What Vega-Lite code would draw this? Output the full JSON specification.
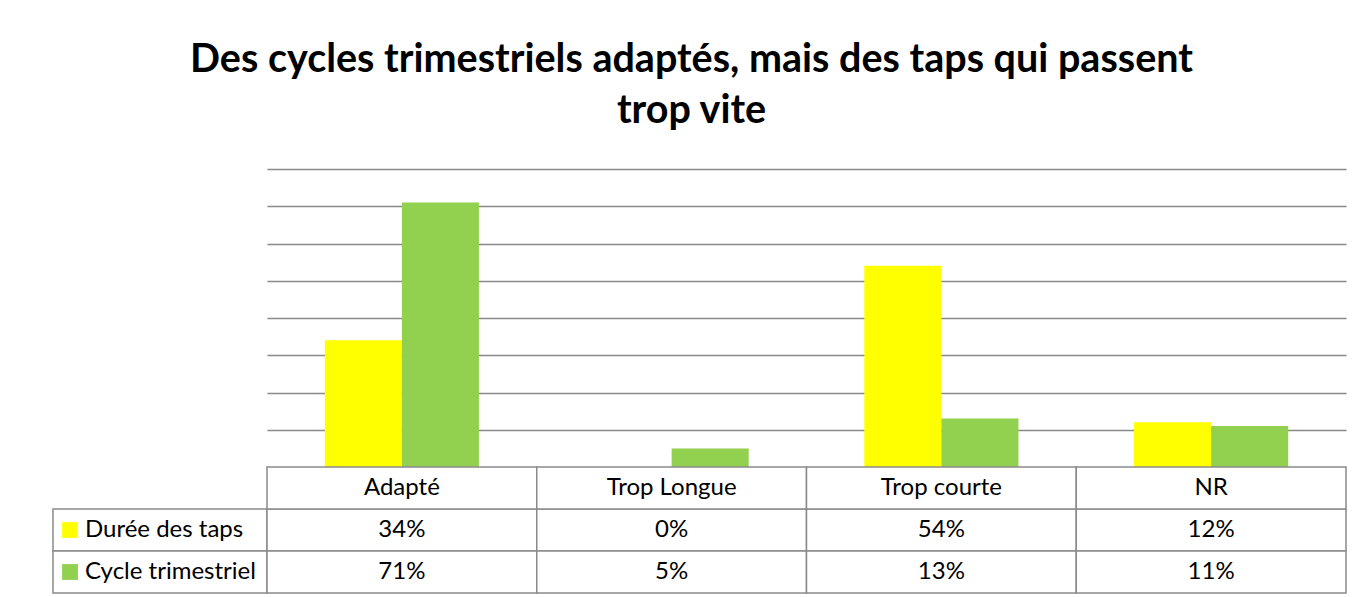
{
  "$schema": "https://vega.github.io/schema/vega-lite/v6.json",
  "padding": {"left": 52, "top": 39, "right": 0, "bottom": 0},
  "background": "white",
  "title": {
    "text": ["Des cycles trimestriels adaptés, mais des taps qui passent", "trop vite"],
    "font": "Lato",
    "fontSize": 39.5,
    "fontWeight": "bold",
    "color": "#000000",
    "anchor": "middle",
    "lineHeight": 51,
    "offset": 38,
    "dx": -8
  },
  "datasets": {
    "bars": [
      {"cat": "Adapté", "series": "Durée des taps", "value": 0.34},
      {"cat": "Trop Longue", "series": "Durée des taps", "value": 0.0},
      {"cat": "Trop courte", "series": "Durée des taps", "value": 0.54},
      {"cat": "NR", "series": "Durée des taps", "value": 0.12},
      {"cat": "Adapté", "series": "Cycle trimestriel", "value": 0.71},
      {"cat": "Trop Longue", "series": "Cycle trimestriel", "value": 0.05},
      {"cat": "Trop courte", "series": "Cycle trimestriel", "value": 0.13},
      {"cat": "NR", "series": "Cycle trimestriel", "value": 0.11}
    ],
    "cats": [
      {"cat": "Adapté"},
      {"cat": "Trop Longue"},
      {"cat": "Trop courte"},
      {"cat": "NR"}
    ]
  },
  "columns": 2,
  "spacing": 0,
  "bounds": "flush",
  "concat": [
    {
      "width": 214,
      "height": 298,
      "data": {"values": []},
      "mark": "point",
      "encoding": {}
    },
    {
      "width": 1079,
      "height": 298,
      "data": {"name": "bars"},
      "mark": {"type": "bar"},
      "encoding": {
        "x": {"field": "cat", "type": "nominal", "sort": null,
          "scale": {"domain": ["Adapté", "Trop Longue", "Trop courte", "NR"], "paddingInner": 0, "paddingOuter": 0},
          "axis": null},
        "xOffset": {"field": "series", "type": "nominal", "sort": null,
          "scale": {"domain": ["Durée des taps", "Cycle trimestriel"], "paddingInner": 0, "paddingOuter": 0.75}},
        "y": {"field": "value", "type": "quantitative",
          "scale": {"domain": [0, 0.8], "nice": false, "zero": true},
          "axis": {"values": [0.1, 0.2, 0.3, 0.4, 0.5, 0.6, 0.7, 0.8], "labels": false, "ticks": false, "domain": false, "title": null, "grid": true, "gridColor": "#898989", "gridWidth": 1.5}},
        "color": {"field": "series", "type": "nominal",
          "scale": {"domain": ["Durée des taps", "Cycle trimestriel"], "range": ["#FFFF00", "#92D050"]},
          "legend": null}
      }
    },
    {
      "width": 214,
      "height": 126,
      "data": {"name": "bars"},
      "transform": [{"aggregate": [], "groupby": ["series"]}],
      "layer": [
        {
          "mark": {"type": "rect", "fill": "white", "stroke": "#8a8a8a", "strokeWidth": 1.5},
          "encoding": {
            "y": {"field": "series", "type": "nominal",
              "scale": {"domain": [" ", "Durée des taps", "Cycle trimestriel"], "paddingInner": 0, "paddingOuter": 0},
              "axis": null}
          }
        },
        {
          "mark": {"type": "point", "shape": "square", "filled": true, "size": 250, "opacity": 1},
          "encoding": {
            "y": {"field": "series", "type": "nominal"},
            "xOffset": {"value": -90},
            "color": {"field": "series", "type": "nominal",
              "scale": {"domain": ["Durée des taps", "Cycle trimestriel"], "range": ["#FFFF00", "#92D050"]},
              "legend": null}
          }
        },
        {
          "mark": {"type": "text", "align": "left", "baseline": "middle", "dx": -75, "font": "Lato", "fontSize": 24, "color": "#000000"},
          "encoding": {
            "y": {"field": "series", "type": "nominal"},
            "text": {"field": "series"}
          }
        }
      ]
    },
    {
      "width": 1079,
      "height": 126,
      "layer": [
        {
          "data": {"name": "bars"},
          "mark": {"type": "rect", "fill": "white", "stroke": "#8a8a8a", "strokeWidth": 1.5},
          "encoding": {
            "x": {"field": "cat", "type": "nominal", "sort": null,
              "scale": {"domain": ["Adapté", "Trop Longue", "Trop courte", "NR"], "paddingInner": 0, "paddingOuter": 0},
              "axis": null},
            "y": {"field": "series", "type": "nominal",
              "scale": {"domain": [" ", "Durée des taps", "Cycle trimestriel"], "paddingInner": 0, "paddingOuter": 0},
              "axis": null}
          }
        },
        {
          "data": {"name": "cats"},
          "mark": {"type": "rect", "fill": "white", "stroke": "#8a8a8a", "strokeWidth": 1.5},
          "encoding": {
            "x": {"field": "cat", "type": "nominal", "sort": null},
            "y": {"datum": " ", "type": "nominal"}
          }
        },
        {
          "data": {"name": "bars"},
          "mark": {"type": "text", "baseline": "middle", "font": "Lato", "fontSize": 24, "color": "#000000"},
          "encoding": {
            "x": {"field": "cat", "type": "nominal", "sort": null},
            "y": {"field": "series", "type": "nominal"},
            "text": {"field": "value", "type": "quantitative", "format": ".0%"}
          }
        },
        {
          "data": {"name": "cats"},
          "mark": {"type": "text", "baseline": "middle", "font": "Lato", "fontSize": 24, "color": "#000000"},
          "encoding": {
            "x": {"field": "cat", "type": "nominal", "sort": null},
            "y": {"datum": " ", "type": "nominal"},
            "text": {"field": "cat"}
          }
        }
      ]
    }
  ],
  "config": {
    "view": {"stroke": null},
    "font": "Lato"
  }
}
